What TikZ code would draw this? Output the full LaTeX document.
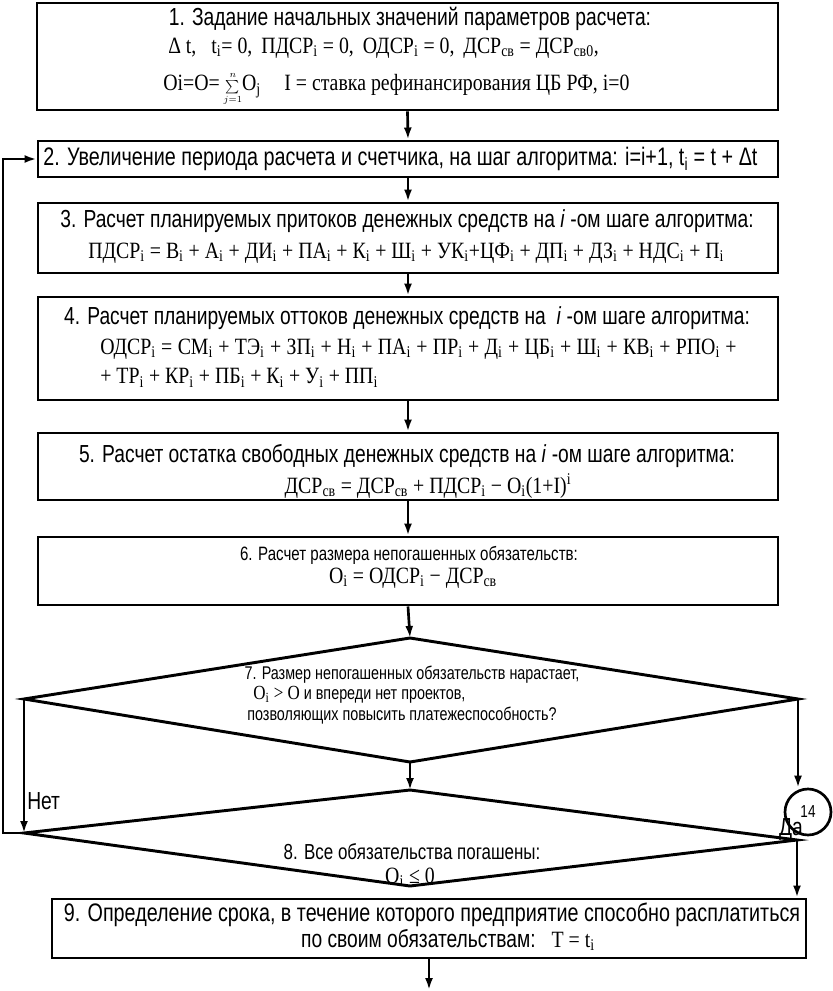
\documentclass[tikz,border=0pt]{standalone}
\usepackage{fontspec}
\setmainfont{Liberation Serif}
\newfontfamily\nar[FakeStretch=0.78]{Liberation Sans}
\newfontfamily\ser[FakeStretch=0.85]{Liberation Serif}
\usetikzlibrary{arrows.meta,fit}
\newcommand\ix[1]{\textsubscript{#1}}
\newcommand\op[1]{\hspace{4pt}#1\hspace{4pt}}
\newcommand\opa[1]{\hspace{2.5pt}#1\hspace{2.5pt}}
\begin{document}
\begin{tikzpicture}[x=0.75pt,y=-0.75pt,
  box/.style={draw, line width=2.2pt, rectangle, inner sep=0pt},
  conn/.style={line width=2pt, -{Latex[length=9pt,width=6pt]}},
  ttl/.style={font=\nar\fontsize{18.5}{21}\selectfont, inner sep=0pt},
  big/.style={font=\nar\fontsize{19}{22}\selectfont, inner sep=0pt},
  dtx/.style={font=\nar\fontsize{16.3}{19}\selectfont, inner sep=0pt},
  mid/.style={font=\nar\fontsize{14.5}{17}\selectfont, inner sep=0pt},
  sml/.style={font=\nar\fontsize{13.8}{16}\selectfont, inner sep=0pt},
  frm/.style={font=\ser\fontsize{17.5}{20}\selectfont, inner sep=0pt}]
\useasboundingbox (0,0) rectangle (832,991);
% boxes
\node[box, fit={(37,3) (778,110)}] (b1) {};
\node[box, fit={(38,141) (778,177)}] (b2) {};
\node[box, fit={(38,203) (778,273)}] (b3) {};
\node[box, fit={(38,297) (778,400)}] (b4) {};
\node[box, fit={(38,433) (778,500)}] (b5) {};
\node[box, fit={(38,537) (778,605)}] (b6) {};
\node[box, fit={(52,899) (806,958)}] (b9) {};
% diamonds
\coordinate (d7t) at (410,638); \coordinate (d7l) at (24,699);
\coordinate (d7r) at (798,699); \coordinate (d7b) at (410,762);
\coordinate (d8t) at (410,790); \coordinate (d8l) at (24,833);
\coordinate (d8r) at (797,840); \coordinate (d8b) at (410,886);
\draw[line width=2.2pt, line join=miter] (d7t) -- (d7r) -- (d7b) -- (d7l) -- cycle;
\draw[line width=2.2pt, line join=miter] (d8t) -- (d8r) -- (d8b) -- (d8l) -- cycle;
% connector circle
\node[draw, circle, line width=2pt, minimum size=46pt*0.75, inner sep=0pt,
      font=\nar\fontsize{13}{15}\selectfont] (c14) at (808,812) {14};
\coordinate (loopx) at (3,833);
\coordinate (fin) at (430,990);
% texts
\node[ttl] (t1) at (410,19) {1. Задание начальных значений параметров расчета:};
\node[frm, anchor=west] (t1a) at (168,48) {Δ t,\ \ \ t\ix{i}= 0,\hspace{3pt} ПДСР\ix{i} = 0,\hspace{3pt} ОДСР\ix{i} = 0,\hspace{3pt} ДСР\ix{св} = ДСР\ix{св0},};
\node[frm, anchor=west] (t1b) at (163,89) {Oi=O=\,{\fontsize{10.5}{10.5}\selectfont$\sum\limits_{j=1}^{n}$}O\ix{j}\quad I = ставка рефинансирования ЦБ РФ, i=0};
\node[big, anchor=west] (t2) at (43,159) {2. Увеличение периода расчета и счетчика, на шаг алгоритма: i=i+1, t\ix{i} = t + Δt};
\node[ttl] (t3) at (407,221) {3. Расчет планируемых притоков денежных средств на \textit{i} -ом шаге алгоритма:};
\node[frm, anchor=west] (t3a) at (88,253) {ПДСР\ix{i} = В\ix{i} + А\ix{i} + ДИ\ix{i} + ПА\ix{i} + К\ix{i} + Ш\ix{i} + УК\ix{i}+ЦФ\ix{i} + ДП\ix{i} + ДЗ\ix{i} + НДС\ix{i} + П\ix{i}};
\node[ttl] (t4) at (407,318) {4. Расчет планируемых оттоков денежных средств на\ \ \textit{i} -ом шаге алгоритма:};
\node[frm, anchor=west] (t4a) at (100,349) {ОДСР\ix{i}\op{=}СМ\ix{i}\op{+}ТЭ\ix{i}\op{+}ЗП\ix{i}\op{+}Н\ix{i}\op{+}ПА\ix{i}\op{+}ПР\ix{i}\op{+}Д\ix{i}\op{+}ЦБ\ix{i}\op{+}Ш\ix{i}\op{+}КВ\ix{i}\op{+}РПО\ix{i}\op{+}};
\node[frm, anchor=west] (t4b) at (100,378) {+ ТР\ix{i} + КР\ix{i} + ПБ\ix{i} + К\ix{i} + У\ix{i} + ПП\ix{i}};
\node[ttl] (t5) at (407,456) {5. Расчет остатка свободных денежных средств на \textit{i} -ом шаге алгоритма:};
\node[frm] (t5a) at (428,486) {ДСР\ix{св} = ДСР\ix{св} + ПДСР\ix{i} − О\ix{i}(1+I)\textsuperscript{i}};
\node[mid] (t6) at (409,555) {6. Расчет размера непогашенных обязательств:};
\node[frm] (t6a) at (413,578) {О\ix{i} = ОДСР\ix{i} − ДСР\ix{св}};
\node[sml] (t7) at (412,675) {7. Размер непогашенных обязательств нарастает,};
\node[sml, anchor=west] (t7a) at (253,695) {{\ser\fontsize{15}{17}\selectfont О\ix{i} > О} и впереди нет проектов,};
\node[sml] (t7b) at (402,716) {позволяющих повысить платежеспособность?};
\node[dtx] (t8) at (412,852) {8. Все обязательства погашены:};
\node[frm] (t8a) at (410,877) {О\ix{i} ≤ 0};
\node[big] (t9) at (432,915) {9. Определение срока, в течение которого предприятие способно расплатиться};
\node[ttl] (t9a) at (448,940) {по своим обязательствам:\ \ \ {\ser\fontsize{17.5}{20}\selectfont Т = t\ix{i}}};
\node[ttl, anchor=west] (net) at (27,801) {Нет};
\node[ttl] (da) at (791,829) {Да};
% connectors
\draw[conn] (b1.south) -- (b2.north);
\draw[conn] (b2.south) -- (b3.north);
\draw[conn] (b3.south) -- (b4.north);
\draw[conn] (b4.south) -- (b5.north);
\draw[conn] (b5.south) -- (b6.north);
\draw[conn] (b6.south) -- (d7t);
\draw[conn] (d7b) -- (d8t);
\draw[conn] (d7l) -- (d8l);
\draw[conn] (d8l) -- (loopx) -- (loopx |- b2.west) -- (b2.west);
\draw[conn] (d7r) -- (d7r |- c14.north);
\draw[conn] (d8r) -- (d8r |- b9.north);
\draw[conn] (b9.south) -- (b9.south |- fin);
\end{tikzpicture}
\end{document}
